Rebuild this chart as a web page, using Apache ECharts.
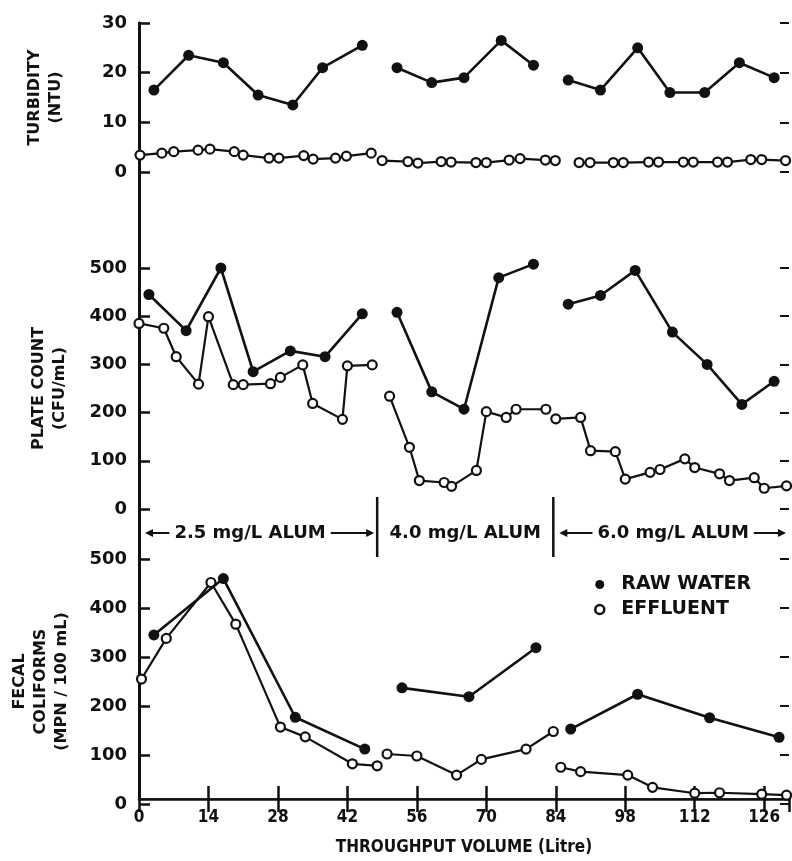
<!DOCTYPE html>
<html>
<head>
<meta charset="UTF-8">
<title>Turbidity / plate count / fecal coliforms vs throughput</title>
<script src="https://cdn.jsdelivr.net/npm/echarts@6/dist/echarts.min.js"></script>
<style>body{margin:0;background:#fff;}</style>
</head>
<body>
<div id="main" style="width:792px;height:861px;"></div>
<script>
// ---- data ----
// x = throughput volume (Litre); null marks the break where the alum dose changes
var volumeMax = 131;
var volumeStep = 14;
var alumBreaks = [48, 83.5];
var alumLabels = ['2.5 mg/L ALUM', '4.0 mg/L ALUM', '6.0 mg/L ALUM'];

var turbRawX = [3, 10, 17, 24, 31, 37, 45, null, 52, 59, 65.5, 73, 79.5, null, 86.5, 93, 100.5, 107, 114, 121, 128];
var turbRawY = [16.5, 23.5, 22, 15.5, 13.5, 21, 25.5, null, 21, 18, 19, 26.5, 21.5, null, 18.5, 16.5, 25, 16, 16, 22, 19];
var turbEffX = [0.2, 4.6, 7, 11.9, 14.3, 19.2, 21, 26.2, 28.2, 33.2, 35.1, 39.6, 41.8, 46.8, null,
  49, 54.2, 56.2, 60.9, 62.9, 67.9, 70, 74.6, 76.8, 81.9, 83.9, null,
  88.7, 90.9, 95.6, 97.6, 102.7, 104.7, 109.7, 111.7, 116.6, 118.6, 123.3, 125.5, 130.3];
var turbEffY = [3.4, 3.8, 4.1, 4.4, 4.6, 4.1, 3.4, 2.8, 2.8, 3.3, 2.6, 2.8, 3.2, 3.8, null,
  2.3, 2.1, 1.8, 2.1, 2.0, 1.9, 1.9, 2.4, 2.7, 2.4, 2.3, null,
  1.9, 1.9, 1.9, 1.9, 2.0, 2.0, 2.0, 2.0, 2.0, 2.0, 2.5, 2.5, 2.3];

var plateRawX = [2, 9.5, 16.5, 23, 30.5, 37.5, 45, null, 52, 59, 65.5, 72.5, 79.5, null, 86.5, 93, 100, 107.5, 114.5, 121.5, 128];
var plateRawY = [445, 370, 500, 285, 328, 316, 405, null, 408, 243, 207, 480, 508, null, 425, 443, 495, 367, 300, 217, 265];
var plateEffX = [0, 5, 7.5, 12, 14, 19, 21, 26.5, 28.5, 33, 35, 41, 42, 47, null,
  50.5, 54.5, 56.5, 61.5, 63, 68, 70, 74, 76, 82, null,
  84, 89, 91, 96, 98, 103, 105, 110, 112, 117, 119, 124, 126, 130.5];
var plateEffY = [385, 375, 316, 259, 399, 258, 258, 260, 273, 299, 219, 186, 297, 299, null,
  234, 128, 59, 55, 47, 80, 202, 190, 207, 207, null,
  187, 190, 121, 119, 62, 76, 82, 104, 86, 73, 59, 65, 43, 48];

var fecalRawX = [3, 17, 31.5, 45.5, null, 53, 66.5, 80, null, 87, 100.5, 115, 129];
var fecalRawY = [345, 460, 177, 112, null, 237, 219, 319, null, 153, 224, 176, 136];
var fecalEffX = [0.5, 5.5, 14.5, 19.5, 28.5, 33.5, 43, 48, null, 50, 56, 64, 69, 78, 83.5, null,
  85, 89, 98.5, 103.5, 112, 117, 125.5, 130.5];
var fecalEffY = [255, 338, 452, 367, 157, 137, 82, 78, null, 102, 98, 59, 91, 112, 148, null,
  75, 66, 59, 34, 22, 23, 20, 18];

// ---- styling ----
var INK = '#111';
var FONT = 'DejaVu Sans';
var COND = 'DejaVu Sans Condensed';
var GL = 139, GR = 3;

var chart = echarts.init(document.getElementById('main'));

// split x/y arrays at the nulls
function segments(xs, ys) {
  var out = [], cur = [];
  for (var i = 0; i < xs.length; i++) {
    if (xs[i] === null) { out.push(cur); cur = []; }
    else cur.push([xs[i], ys[i]]);
  }
  out.push(cur);
  return out;
}

// idx = panel (1 turbidity, 2 plate count, 3 fecal)
function makeSeries(xs, ys, idx, raw) {
  return segments(xs, ys).map(function (d) {
    return {
      name: raw ? 'RAW WATER' : 'EFFLUENT',
      type: 'line',
      xAxisIndex: idx + 1,
      yAxisIndex: idx,
      data: d,
      clip: false,
      symbol: 'circle',
      symbolSize: raw ? 11 : 9,
      showSymbol: true,
      silent: true,
      z: raw ? 3 : 2,
      lineStyle: { color: INK, width: raw ? 2.6 : 2.2 },
      itemStyle: raw ? { color: INK } : { color: '#fff', borderColor: INK, borderWidth: 2.2 }
    };
  });
}

function hiddenX(g) {
  return { gridIndex: g, type: 'value', min: 0, max: volumeMax, show: false };
}

function leftY(g, max, name, gap) {
  return {
    gridIndex: g, type: 'value', min: 0, max: max, interval: max === 30 ? 10 : 100,
    axisLine: { show: false },
    axisTick: { show: true, inside: true, length: 11, lineStyle: { color: INK, width: 2.5 } },
    axisLabel: { margin: 12, color: INK, fontFamily: FONT, fontWeight: 'bold', fontSize: 18 },
    splitLine: { show: false },
    name: name, nameLocation: 'middle', nameRotate: 90, nameGap: gap,
    nameTextStyle: { color: INK, fontFamily: FONT, fontWeight: 'bold', fontSize: 16, lineHeight: 21 }
  };
}

function rightY(g, max) {
  return {
    gridIndex: g, type: 'value', position: 'right', min: 0, max: max, interval: max === 30 ? 10 : 100,
    axisLine: { show: false },
    axisTick: { show: true, inside: true, length: 9, lineStyle: { color: INK, width: 2 } },
    axisLabel: { show: false },
    splitLine: { show: false }
  };
}

var grids = [
  { left: GL, right: GR, top: 23, height: 781 },   // frame
  { left: GL, right: GR, top: 23, height: 149 },   // turbidity
  { left: GL, right: GR, top: 268, height: 241 },  // plate count
  { left: GL, right: GR, top: 559, height: 245 }   // fecal coliforms
];

var series = []
  .concat(makeSeries(turbEffX, turbEffY, 1, false))
  .concat(makeSeries(turbRawX, turbRawY, 1, true))
  .concat(makeSeries(plateEffX, plateEffY, 2, false))
  .concat(makeSeries(plateRawX, plateRawY, 2, true))
  .concat(makeSeries(fecalEffX, fecalEffY, 3, false))
  .concat(makeSeries(fecalRawX, fecalRawY, 3, true));

var option = {
  animation: false,
  backgroundColor: '#fff',
  grid: grids,
  xAxis: [
    {
      gridIndex: 0, type: 'value', min: 0, max: volumeMax, interval: volumeStep,
      axisLine: { lineStyle: { color: INK, width: 2.5 } },
      axisTick: { inside: true, length: 13, lineStyle: { color: INK, width: 2.5 } },
      axisLabel: { margin: 10, color: INK, fontFamily: COND, fontWeight: 'bold', fontSize: 17, showMaxLabel: false },
      splitLine: { show: false },
      name: 'THROUGHPUT VOLUME (Litre)', nameLocation: 'middle', nameGap: 40,
      nameTextStyle: { color: INK, fontFamily: COND, fontWeight: 'bold', fontSize: 17 }
    },
    {
      gridIndex: 0, type: 'value', position: 'top', min: 0, max: volumeMax, interval: volumeStep,
      axisLine: { lineStyle: { color: INK, width: 1.5 } },
      axisTick: { inside: true, length: 13, lineStyle: { color: INK, width: 2.5 } },
      axisLabel: { show: false },
      splitLine: { show: false }
    },
    hiddenX(1), hiddenX(2), hiddenX(3)
  ],
  yAxis: [
    { gridIndex: 0, type: 'value', min: 0, max: 1, axisLine: { show: true, lineStyle: { color: INK, width: 3 } },
      axisTick: { show: false }, axisLabel: { show: false }, splitLine: { show: false } },
    leftY(1, 30, 'TURBIDITY\n(NTU)', 73),
    leftY(2, 500, 'PLATE COUNT\n(CFU/mL)', 69),
    leftY(3, 500, 'FECAL\nCOLIFORMS\n(MPN / 100 mL)', 67),
    { gridIndex: 0, type: 'value', position: 'right', min: 0, max: 1, axisLine: { show: true, lineStyle: { color: INK, width: 2.5 } },
      axisTick: { show: false }, axisLabel: { show: false }, splitLine: { show: false } },
    rightY(1, 30), rightY(2, 500), rightY(3, 500)
  ],
  legend: {
    orient: 'vertical', left: 589, top: 570, itemGap: 6,
    itemWidth: 9, itemHeight: 9, icon: 'circle', selectedMode: false,
    textStyle: { color: INK, fontFamily: FONT, fontWeight: 'bold', fontSize: 19, padding: [0, 0, 0, 12] },
    data: [
      { name: 'RAW WATER', itemStyle: { color: INK, borderWidth: 0 } },
      { name: 'EFFLUENT', itemStyle: { color: '#fff', borderColor: INK, borderWidth: 2.5 } }
    ]
  },
  series: series
};

chart.setOption(option);

// ---- alum dose annotation between plate count and fecal panels ----
var labelFont = 'bold 18px "' + FONT + '"';
var ctx = document.createElement('canvas').getContext('2d');
ctx.font = labelFont;

var rowY = 533;
var edges = [0].concat(alumBreaks).concat([volumeMax]);
var px = edges.map(function (v) { return chart.convertToPixel({ xAxisIndex: 0 }, v); });
var graphic = [];

alumBreaks.forEach(function (v, i) {
  var x = px[i + 1];
  graphic.push({ type: 'line', silent: true, shape: { x1: x, y1: 497, x2: x, y2: 557 },
    style: { stroke: INK, lineWidth: 2.5 } });
});

function arrow(xTail, xHead) {
  var dir = xHead > xTail ? 1 : -1;
  graphic.push({ type: 'line', silent: true, shape: { x1: xTail, y1: rowY, x2: xHead - dir * 6, y2: rowY },
    style: { stroke: INK, lineWidth: 2 } });
  graphic.push({ type: 'polygon', silent: true,
    shape: { points: [[xHead, rowY], [xHead - dir * 8, rowY - 4], [xHead - dir * 8, rowY + 4]] },
    style: { fill: INK } });
}

alumLabels.forEach(function (t, i) {
  var a = px[i], b = px[i + 1];
  var w = ctx.measureText(t).width;
  var c = (a + b) / 2 + (i === 0 ? -8 : (i === 2 ? 2 : 0));
  graphic.push({ type: 'text', silent: true, x: c, y: rowY,
    style: { text: t, font: labelFont, fill: INK, align: 'center', verticalAlign: 'middle' } });
  if (c - w / 2 - a > 20) {
    arrow(c - w / 2 - 5, a + 6);
    arrow(c + w / 2 + 5, b - 3);
  }
});

chart.setOption({ graphic: graphic });
</script>
</body>
</html>
